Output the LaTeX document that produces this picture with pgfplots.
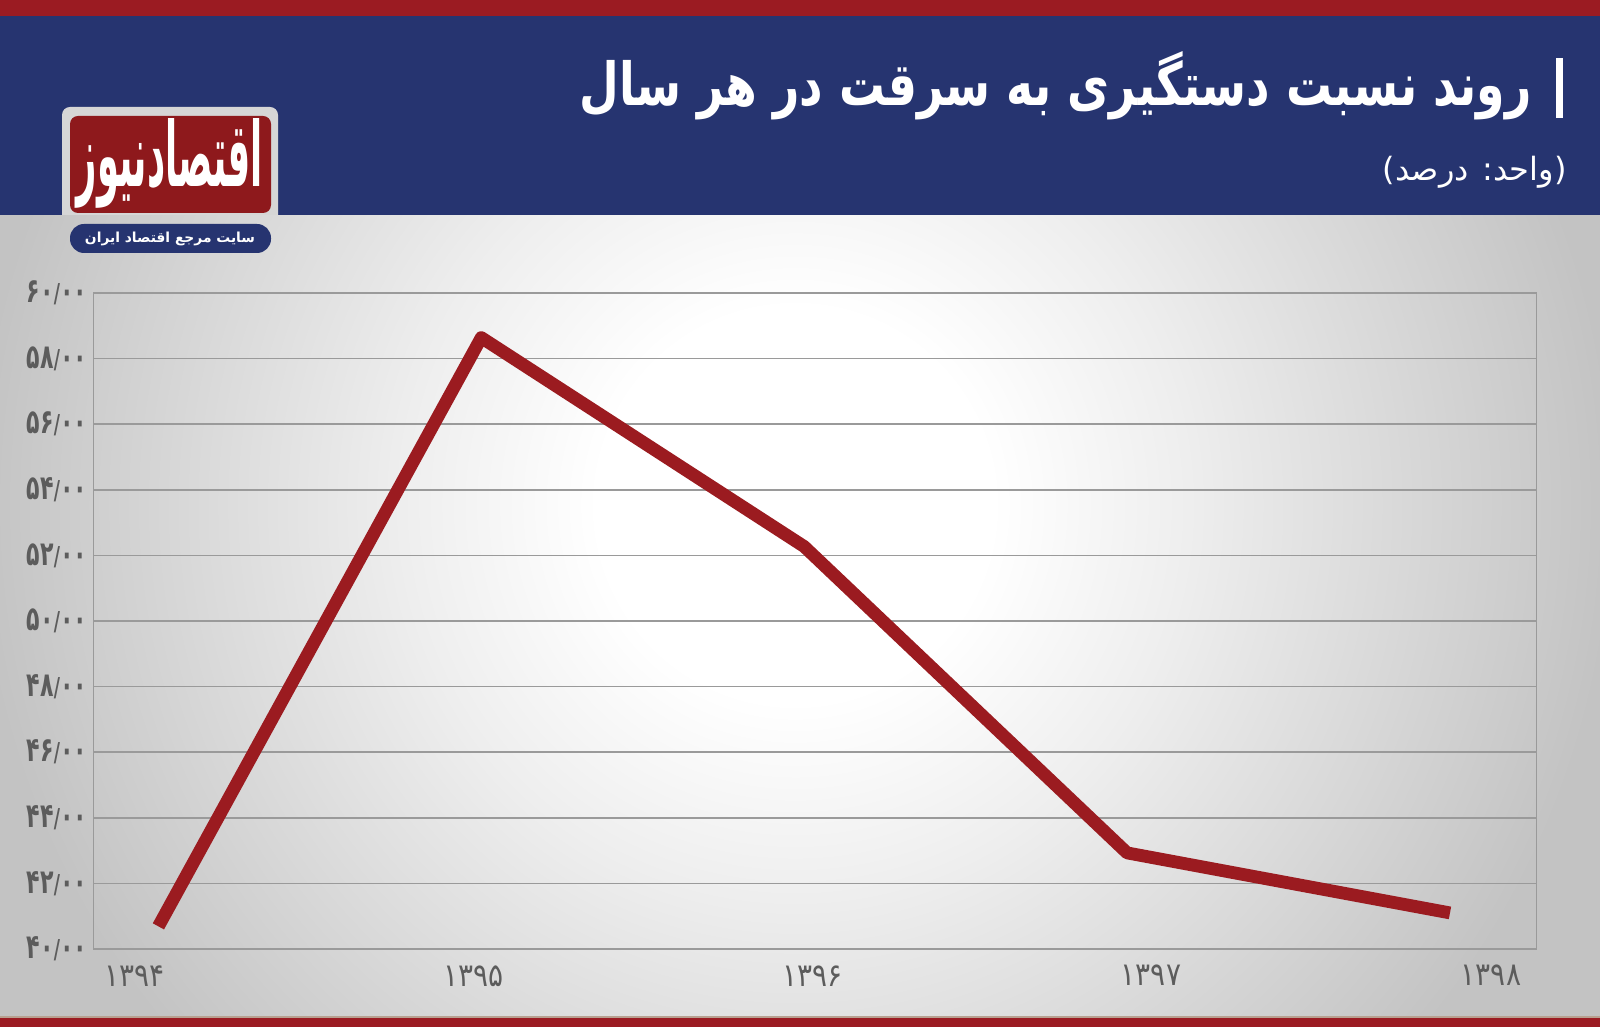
\documentclass[border=0pt]{standalone}
\usepackage{fontspec}
\usepackage{graphicx}
\usepackage{pgfplots}
\pgfplotsset{compat=1.18}
\setmainfont{DejaVu Sans}
\newfontfamily\arabicfont[Script=Arabic]{DejaVu Sans}
\TeXXeTstate=1
\definecolor{topred}{HTML}{9B1B22}
\definecolor{hblue}{HTML}{263470}
\definecolor{linered}{HTML}{9B1B20}
\definecolor{gridg}{HTML}{9A9A9A}
\definecolor{tickg}{HTML}{5C5C5C}
\definecolor{bgg}{HTML}{C3C3C3}
\definecolor{bgmid}{HTML}{EEEEEE}
\definecolor{logogrey}{HTML}{D6D6D6}
\definecolor{logored}{HTML}{8E191C}
\definecolor{tanline}{HTML}{B8A090}
\pgfdeclareradialshading{bgshade}{\pgfpoint{0bp}{0bp}}{color(0bp)=(white); color(6bp)=(white); color(12bp)=(bgmid); color(25bp)=(bgg); color(50bp)=(bgg)}
\newcommand\yl[2]{\scalebox{0.85}[1.3]{#1{\fontsize{10}{10}\selectfont/}#2}}
\newcommand\xl[1]{\scalebox{1}[1.15]{#1}}
\begin{document}
\begin{tikzpicture}
\begin{scope}[x=0.5pt,y=-0.5pt,yshift=513.5pt]
\useasboundingbox (0,0) rectangle (1600,1027);
\fill[bgg] (0,215) rectangle (1600,1018);
\begin{scope}
\clip (0,215) rectangle (1600,1018);
\shade[shading=bgshade] (795,505) circle (820);
\end{scope}
\fill[hblue] (0,16) rectangle (1600,215);
\fill[topred] (0,0) rectangle (1600,16);
\fill[tanline] (0,1016) rectangle (1600,1018);
\fill[topred] (0,1018) rectangle (1600,1027);
% logo
\fill[logogrey] (62,215) {[rounded corners=4pt] -- (62,107) -- (278,107)} -- (278,215) -- cycle;
\fill[logored, rounded corners=4pt] (70,116) rectangle (271,213);
\fill[hblue, rounded corners=7pt] (70,224) rectangle (271,253);
\node[text=white, inner sep=0pt] at (170,163) {\resizebox{93pt}{34pt}{\arabicfont\bfseries\beginR اقتصادنیوز\endR}};
\node[text=white, inner sep=0pt] at (170,239) {\resizebox{85pt}{!}{\arabicfont\bfseries\beginR سایت مرجع اقتصاد ایران\endR}};
% title
\node[anchor=base east, text=white, inner sep=0pt] at (1532,106) {\resizebox{476pt}{27pt}{\arabicfont\bfseries\beginR روند نسبت دستگیری به سرقت در هر سال\endR}};
\fill[white] (1556,58) rectangle (1563,118);
\node[anchor=east, text=white, inner sep=0pt] at (1567,172) {\resizebox{92pt}{!}{\arabicfont )\beginR واحد: درصد\endR(}};
\end{scope}
\begin{axis}[
  at={(46.75pt,39pt)}, anchor=south west,
  width=721.5pt, height=328pt, scale only axis,
  xmin=-0.201, xmax=4.268, ymin=40, ymax=60,
  ytick={40,42,...,60},
  yticklabels={\yl{۴۰}{۰۰},\yl{۴۲}{۰۰},\yl{۴۴}{۰۰},\yl{۴۶}{۰۰},\yl{۴۸}{۰۰},\yl{۵۰}{۰۰},\yl{۵۲}{۰۰},\yl{۵۴}{۰۰},\yl{۵۶}{۰۰},\yl{۵۸}{۰۰},\yl{۶۰}{۰۰}},
  xtick={-0.073,0.977,2.025,3.074,4.127},
  xticklabels={\xl{۱۳۹۴},\xl{۱۳۹۵},\xl{۱۳۹۶},\xl{۱۳۹۷},\xl{۱۳۹۸}},
  major tick length=0pt,
  ymajorgrids,
  grid style={gridg, line width=0.8pt},
  axis line style={gridg, line width=0.9pt},
  yticklabel style={font=\arabicfont\bfseries\fontsize{13}{13}\selectfont, text=tickg, inner sep=0pt, xshift=-3pt},
  xticklabel style={font=\arabicfont\fontsize{14}{14}\selectfont, text=tickg, inner sep=0pt, anchor=north, yshift=-8pt},
  clip=false,
]
\addplot[linered, line width=6.4pt, line join=round, line cap=butt] coordinates {(0,40.69) (1,58.64) (2,52.27) (3,42.93) (4,41.10)};
\end{axis}
\end{tikzpicture}
\end{document}
